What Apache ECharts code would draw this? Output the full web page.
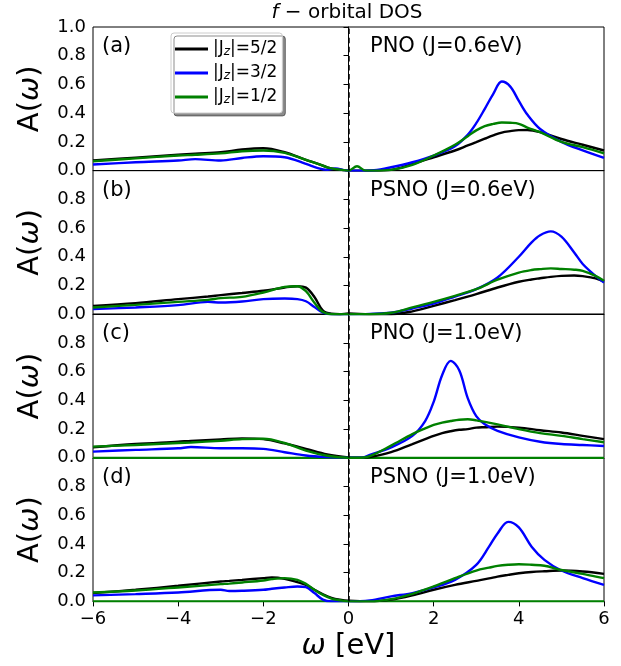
<!DOCTYPE html>
<html>
<head>
<meta charset="utf-8">
<script src="https://cdn.jsdelivr.net/npm/echarts@6/dist/echarts.min.js"></script>
<style>html,body{margin:0;padding:0;background:#fff;}#c{width:621px;height:666px;}</style>
</head>
<body>
<div id="c"></div>
<script>
// ---------- data ----------
const seriesNames = ['|Jz|=5/2', '|Jz|=3/2', '|Jz|=1/2'];
const panelLabels = ['(a)', '(b)', '(c)', '(d)'];
const panelTitles = ['PNO (J=0.6eV)', 'PSNO (J=0.6eV)', 'PNO (J=1.0eV)', 'PSNO (J=1.0eV)'];
const xTicks = [-6, -4, -2, 0, 2, 4, 6];
const yTicks = [0.0, 0.2, 0.4, 0.6, 0.8, 1.0];

// panel (a)
const xA = [-6,-5,-4,-3.6,-3,-2.5,-2,-1.5,-1,-0.7,-0.5,-0.3,-0.1,0,0.2,0.4,0.6,1,1.5,2,2.5,2.8,3,3.2,3.4,3.6,3.8,4,4.2,4.5,5,5.5,6];
const blackA = [.07,.09,.11,.118,.128,.147,.156,.128,.075,.045,.023,.01,.003,0,0,0,0,.005,.047,.093,.14,.175,.198,.222,.245,.265,.275,.282,.283,.268,.22,.18,.14];
const blueA  = [.042,.058,.07,.08,.07,.088,.1,.093,.047,.016,.005,.015,.003,0,0,0,.002,.023,.058,.105,.17,.25,.33,.43,.535,.62,.585,.485,.39,.29,.2,.14,.088];
const greenA = [.065,.085,.105,.11,.12,.135,.14,.123,.075,.045,.023,.01,.003,0,.03,0,0,.005,.04,.105,.18,.24,.28,.31,.325,.335,.333,.326,.3,.268,.2,.163,.12];

// panel (b)
const xB = [-6,-5,-4,-3.3,-3,-2.5,-2,-1.5,-1.2,-1,-0.8,-0.6,-0.4,-0.2,0,0.5,1,1.5,2,2.5,3,3.5,4,4.3,4.5,4.75,5,5.3,5.5,5.8,6];
const blackB = [.058,.077,.105,.123,.133,.148,.163,.186,.195,.185,.12,.025,.003,0,.005,0,0,.02,.058,.098,.14,.186,.226,.242,.25,.26,.267,.27,.265,.25,.228];
const blueB  = [.035,.047,.063,.086,.081,.088,.105,.109,.105,.09,.05,.01,0,0,0,.002,.01,.04,.074,.123,.174,.256,.4,.5,.55,.577,.54,.43,.35,.267,.22];
const greenB = [.047,.065,.086,.1,.112,.121,.151,.19,.195,.16,.08,.015,0,0,0,0,.01,.047,.086,.128,.174,.24,.29,.308,.314,.319,.315,.31,.302,.267,.233];

// panel (c)
const xC = [-6,-5,-4,-3.7,-3,-2.5,-2,-1.5,-1,-0.5,0,0.3,0.5,1,1.5,1.8,2,2.2,2.4,2.6,2.8,3,3.2,3.5,4,4.5,5,5.5,6];
const blackC = [.073,.096,.112,.118,.128,.135,.13,.1,.062,.023,.003,0,.005,.04,.096,.13,.153,.172,.185,.195,.2,.21,.213,.217,.21,.192,.176,.153,.13];
const blueC  = [.043,.055,.066,.075,.066,.066,.062,.039,.016,.005,0,0,.02,.073,.153,.256,.39,.577,.675,.61,.416,.29,.233,.188,.142,.112,.096,.089,.082];
const greenC = [.078,.089,.103,.107,.119,.13,.133,.103,.05,.014,0,0,.011,.085,.165,.205,.229,.245,.256,.265,.268,.261,.25,.233,.2,.172,.153,.13,.108];

// panel (d)
const xD = [-6,-5,-4,-3,-2.8,-2.5,-2,-1.8,-1.5,-1.2,-1,-0.8,-0.6,-0.4,-0.2,0,0.5,1,1.5,2,2.5,3,3.3,3.5,3.75,4,4.3,4.6,5,5.5,6];
const blackD = [.058,.081,.109,.139,.143,.15,.162,.166,.157,.134,.115,.081,.05,.025,.012,.005,0,.012,.042,.081,.115,.143,.16,.173,.185,.196,.205,.21,.215,.208,.192];
const blueD  = [.042,.051,.062,.081,.072,.074,.081,.088,.097,.104,.099,.058,.012,0,0,0,.007,.035,.058,.097,.15,.254,.381,.473,.554,.515,.381,.289,.215,.162,.115];
const greenD = [.062,.076,.097,.12,.124,.132,.146,.155,.162,.15,.122,.081,.045,.02,.008,0,0,.016,.053,.104,.162,.215,.235,.247,.255,.259,.255,.248,.219,.192,.162];

// flat zero-level curves visible in panels (c) and (d)
const zeroX = [-6, 6];
const zeroY = [0, 0];

// ---------- build ----------
const FONT = 'DejaVu Sans';
const colors = ['#000000', '#0000ff', '#008000'];
const panels = [
  {x: xA, ys: [blackA, blueA, greenA], zero: false},
  {x: xB, ys: [blackB, blueB, greenB], zero: false},
  {x: xC, ys: [blackC, blueC, greenC], zero: true},
  {x: xD, ys: [blackD, blueD, greenD], zero: true}
];
const gridTop = 27, gridH = 143.6, gridLeft = 93, gridRight = 17;
const zip = (xs, ys) => xs.map((v, i) => [v, ys[i]]);
const fmtNum = v => (v < 0 ? '\u2212' + Math.abs(v) : String(v));

const grids = [], xAxes = [], yAxes = [], series = [], graphics = [];
panels.forEach((p, i) => {
  grids.push({left: gridLeft, right: gridRight, top: gridTop + i * gridH, height: gridH,
    show: true, borderColor: '#000', borderWidth: 1, backgroundColor: 'transparent'});
  const last = i === panels.length - 1;
  xAxes.push({
    type: 'value', gridIndex: i, min: xTicks[0], max: xTicks[xTicks.length - 1], interval: 2,
    axisLine: {show: true, onZero: false, lineStyle: {color: '#000', width: 1}},
    axisTick: {show: last, length: 5, lineStyle: {color: '#000', width: 1}},
    axisLabel: {show: last, margin: 9, color: '#000', fontSize: 18, fontFamily: FONT, formatter: fmtNum},
    splitLine: {show: false},
    name: last ? '{i|\u03c9} [eV]' : '', nameLocation: 'middle', nameGap: 31,
    nameTextStyle: {color: '#000', fontSize: 29, fontFamily: FONT,
      rich: {i: {fontStyle: 'italic', fontSize: 29, fontFamily: FONT, color: '#000'}}}
  });
  yAxes.push({
    type: 'value', gridIndex: i, min: 0, max: 1, interval: 0.2,
    axisLine: {show: true, lineStyle: {color: '#000', width: 1}},
    axisTick: {show: true, length: 5, lineStyle: {color: '#000', width: 1}},
    axisLabel: {margin: 7, color: '#000', fontSize: 18, fontFamily: FONT,
      formatter: v => (i > 0 && v >= 0.999) ? '' : v.toFixed(1)},
    splitLine: {show: false},
    name: 'A({i|\u03c9})', nameLocation: 'middle', nameGap: 48,
    nameTextStyle: {color: '#000', fontSize: 29, fontFamily: FONT,
      rich: {i: {fontStyle: 'italic', fontSize: 29, fontFamily: FONT, color: '#000'}}}
  });
  if (p.zero) {
    series.push({type: 'line', name: 'zero' + i, xAxisIndex: i, yAxisIndex: i,
      data: zip(zeroX, zeroY), showSymbol: false, symbol: 'none', z: 1,
      lineStyle: {color: colors[2], width: 2.3}, silent: true});
  }
  p.ys.forEach((ys, k) => {
    const s = {type: 'line', name: seriesNames[k], xAxisIndex: i, yAxisIndex: i,
      data: zip(p.x, ys), smooth: 0.35, showSymbol: false, symbol: 'none',
      lineStyle: {color: colors[k], width: 2.4}, itemStyle: {color: colors[k]}, z: 2 + k};
    if (k === 0) {
      s.markLine = {silent: true, symbol: 'none', label: {show: false}, animation: false,
        lineStyle: {color: '#000', type: [5.5, 3.6], width: 1.5},
        data: [{xAxis: 0}]};
    }
    series.push(s);
  });
  const cy = gridTop + i * gridH + 21;
  graphics.push({type: 'text', left: 102, top: cy - 12,
    style: {text: panelLabels[i], font: '21px "DejaVu Sans"', fill: '#000'}});
  graphics.push({type: 'text', left: 370, top: cy - 12,
    style: {text: panelTitles[i], font: '21px "DejaVu Sans"', fill: '#000'}});
});

graphics.push({type: 'text', x: 347, y: 13, z: 10,
  style: {text: '{i|f} \u2212 orbital DOS', font: '20px "DejaVu Sans"', fill: '#000',
    align: 'center', verticalAlign: 'middle',
    rich: {i: {fontStyle: 'italic', fontSize: 20, fontFamily: FONT, fill: '#000'}}}});

const option = {
  animation: false,
  backgroundColor: '#fff',
  grid: grids, xAxis: xAxes, yAxis: yAxes, series: series,
  graphic: graphics,
  legend: {
    data: seriesNames, orient: 'vertical', left: 171, top: 33,
    icon: 'rect', itemWidth: 33, itemHeight: 3, itemGap: 6,
    padding: [7, 5, 7, 4],
    backgroundColor: '#fff', borderColor: '#cccccc', borderWidth: 1, borderRadius: 3,
    shadowColor: 'rgba(0,0,0,0.45)', shadowOffsetX: 3, shadowOffsetY: 3, shadowBlur: 0,
    formatter: n => '|J{s|z}|' + n.slice(4),
    textStyle: {color: '#000', fontSize: 17, fontFamily: FONT, lineHeight: 18,
      rich: {s: {fontSize: 12, fontStyle: 'italic', fontFamily: FONT, lineHeight: 12, verticalAlign: 'bottom', padding: [6, 0, 0, 0]}}}
  }
};

const chart = echarts.init(document.getElementById('c'), null, {renderer: 'canvas'});
chart.setOption(option);
</script>
</body>
</html>
